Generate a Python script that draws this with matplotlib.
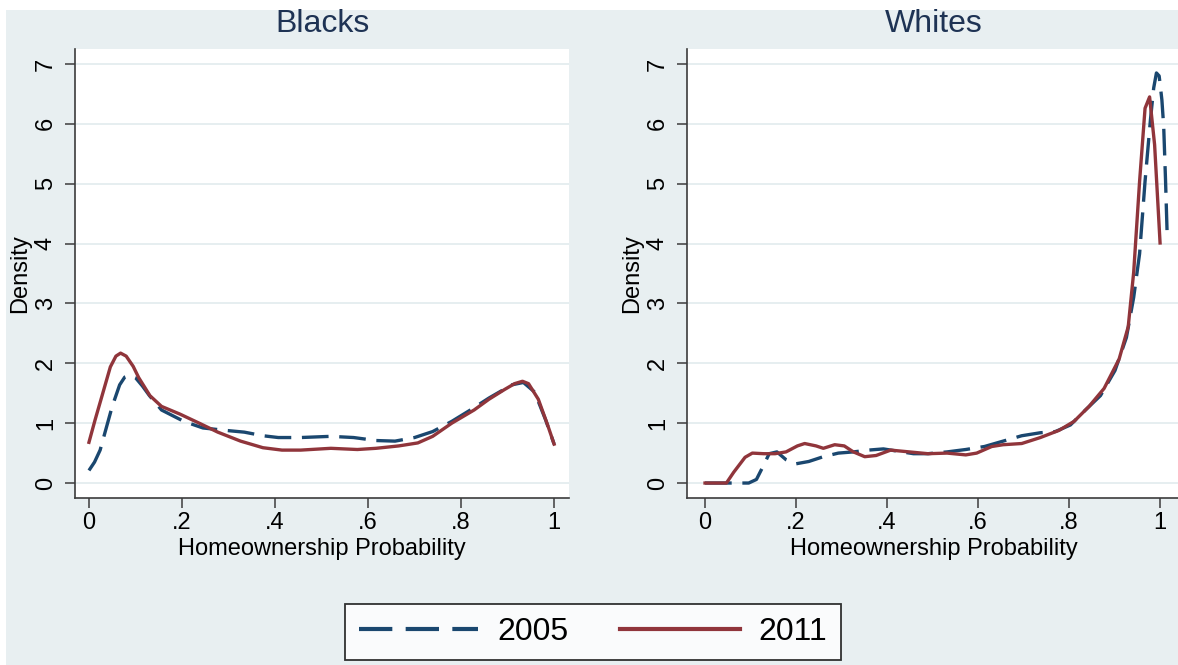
import matplotlib
matplotlib.use("Agg")
import matplotlib.pyplot as plt
from matplotlib.patches import Rectangle
from matplotlib.lines import Line2D

plt.rcParams['font.family'] = ['Liberation Sans', 'DejaVu Sans']

# kernel density estimates read off for each group and year
blacks_x_2005 = [0, 0.012, 0.024, 0.05, 0.066, 0.077, 0.087, 0.1, 0.115, 0.13, 0.156, 0.204, 0.245, 0.293,
                 0.334, 0.374, 0.407, 0.455, 0.52, 0.569, 0.617, 0.658, 0.70, 0.739, 0.78, 0.82, 0.86,
                 0.909, 0.934, 0.958, 0.982, 1.0]
blacks_y_2005 = [0.21, 0.35, 0.55, 1.28, 1.64, 1.77, 1.80, 1.76, 1.62, 1.46, 1.22, 1.03, 0.92, 0.88,
                 0.85, 0.79, 0.76, 0.76, 0.78, 0.76, 0.71, 0.70, 0.76, 0.86, 1.03, 1.22, 1.42,
                 1.64, 1.68, 1.52, 1.05, 0.65]

blacks_x_2011 = [0, 0.013, 0.026, 0.046, 0.058, 0.068, 0.08, 0.095, 0.107, 0.131, 0.156, 0.196, 0.237,
                 0.277, 0.326, 0.374, 0.415, 0.455, 0.52, 0.577, 0.617, 0.666, 0.707, 0.739, 0.78,
                 0.828, 0.86, 0.893, 0.915, 0.932, 0.945, 0.966, 0.986, 1.0]
blacks_y_2011 = [0.68, 1.05, 1.40, 1.94, 2.12, 2.17, 2.12, 1.95, 1.76, 1.46, 1.28, 1.15, 1.00,
                 0.85, 0.70, 0.59, 0.55, 0.55, 0.58, 0.56, 0.58, 0.62, 0.67, 0.78, 1.00,
                 1.22, 1.40, 1.56, 1.66, 1.70, 1.66, 1.40, 0.97, 0.65]

whites_x_2005 = [0, 0.096, 0.113, 0.129, 0.141, 0.158, 0.178, 0.199, 0.228, 0.26, 0.293, 0.326, 0.359,
                 0.392, 0.425, 0.458, 0.49, 0.532, 0.573, 0.614, 0.655, 0.696, 0.737, 0.77, 0.803,
                 0.836, 0.869, 0.901, 0.926, 0.942, 0.955, 0.967, 0.979, 0.986, 0.992, 0.998, 1.004,
                 1.008, 1.012, 1.016]
whites_y_2005 = [0, 0, 0.06, 0.30, 0.49, 0.52, 0.39, 0.32, 0.36, 0.44, 0.50, 0.52, 0.55,
                 0.57, 0.53, 0.49, 0.49, 0.52, 0.56, 0.61, 0.70, 0.79, 0.84, 0.86, 0.97,
                 1.22, 1.46, 1.88, 2.43, 3.10, 3.83, 5.04, 6.08, 6.60, 6.85, 6.80, 6.40,
                 5.95, 5.06, 4.05]

whites_x_2011 = [0, 0.047, 0.063, 0.088, 0.104, 0.129, 0.154, 0.178, 0.203, 0.219, 0.244, 0.26, 0.285,
                 0.306, 0.326, 0.351, 0.376, 0.408, 0.449, 0.49, 0.532, 0.573, 0.597, 0.63, 0.655,
                 0.696, 0.737, 0.778, 0.811, 0.844, 0.877, 0.91, 0.93, 0.942, 0.955, 0.967, 0.977,
                 0.988, 0.996, 1.0]
whites_y_2011 = [0, 0, 0.18, 0.43, 0.50, 0.49, 0.49, 0.52, 0.62, 0.66, 0.62, 0.58, 0.64,
                 0.62, 0.52, 0.44, 0.46, 0.55, 0.52, 0.49, 0.50, 0.47, 0.50, 0.61, 0.64,
                 0.66, 0.76, 0.88, 1.03, 1.28, 1.58, 2.07, 2.61, 3.52, 5.04, 6.26, 6.45,
                 5.65, 4.56, 4.01]

panel_titles = ['Blacks', 'Whites']
years = ['2005', '2011']
x_ticks = [0, 0.2, 0.4, 0.6, 0.8, 1.0]
x_ticklabels = ['0', '.2', '.4', '.6', '.8', '1']
y_ticks = [0, 1, 2, 3, 4, 5, 6, 7]

navy = '#1a476f'
maroon = '#90353b'
bg = '#e8eff1'
grid_col = '#e6eef0'
axis_col = '#3c3c3c'
title_col = '#1e3354'

W, H = 1178, 665
fig = plt.figure(figsize=(W / 100, H / 100), dpi=100, facecolor='white')
# graph region background, leaving the thin white margin on top and left
fig.patches.append(Rectangle((6 / W, 0), 1, 1 - 10 / H, transform=fig.transFigure,
                             facecolor=bg, edgecolor='none', zorder=-10))

ax1 = fig.add_axes([75 / W, (H - 498) / H, 494 / W, 449 / H])
ax2 = fig.add_axes([687 / W, (H - 498) / H, 494 / W, 449 / H])

panels = [
    (ax1, blacks_x_2005, blacks_y_2005, blacks_x_2011, blacks_y_2011, (-0.030, 1.032)),
    (ax2, whites_x_2005, whites_y_2005, whites_x_2011, whites_y_2011, (-0.0396, 1.046)),
]

for (ax, x05, y05, x11, y11, xl), title in zip(panels, panel_titles):
    ax.set_facecolor('white')
    ax.plot(x05, y05, color=navy, lw=2.4, dashes=(8, 3.2), dash_capstyle='butt', zorder=3)
    ax.plot(x11, y11, color=maroon, lw=2.4, solid_joinstyle='round', zorder=4)
    ax.set_xlim(*xl)
    ax.set_ylim(-0.25, 7.25)
    ax.set_xticks(x_ticks)
    ax.set_xticklabels(x_ticklabels)
    ax.set_yticks(y_ticks)
    ax.set_yticklabels([str(v) for v in y_ticks], rotation=90, va='center')
    ax.grid(axis='y', color=grid_col, lw=1.4)
    ax.set_axisbelow(True)
    for side in ['top', 'right']:
        ax.spines[side].set_visible(False)
    for side in ['left', 'bottom']:
        ax.spines[side].set_color(axis_col)
        ax.spines[side].set_linewidth(1.2)
    ax.tick_params(axis='both', colors=axis_col, labelcolor='black', length=7, width=1.1, labelsize=17)
    ax.tick_params(axis='y', pad=6)
    ax.tick_params(axis='x', pad=3)
    ax.set_xlabel('Homeownership Probability', fontsize=17, labelpad=3)
    ax.set_ylabel('Density', fontsize=17, labelpad=3)
    pos = ax.get_position()
    fig.text((pos.x0 + pos.x1) / 2, 1 - 24 / H, title, ha='center', va='center',
             fontsize=23, color=title_col)

handles = [Line2D([], [], color=navy, lw=3, dashes=(8, 3.2), dash_capstyle='butt'),
           Line2D([], [], color=maroon, lw=3)]
leg = fig.legend(handles, years, loc='center', bbox_to_anchor=(593 / W, (H - 632) / H),
                 ncol=2, fontsize=23, frameon=True, fancybox=False, handlelength=3.75,
                 handletextpad=0.6, columnspacing=1.6, borderpad=0.42)
leg.get_frame().set_edgecolor('black')
leg.get_frame().set_linewidth(1.3)
leg.get_frame().set_facecolor('white')

fig.savefig('out.png', dpi=100, facecolor=fig.get_facecolor())
